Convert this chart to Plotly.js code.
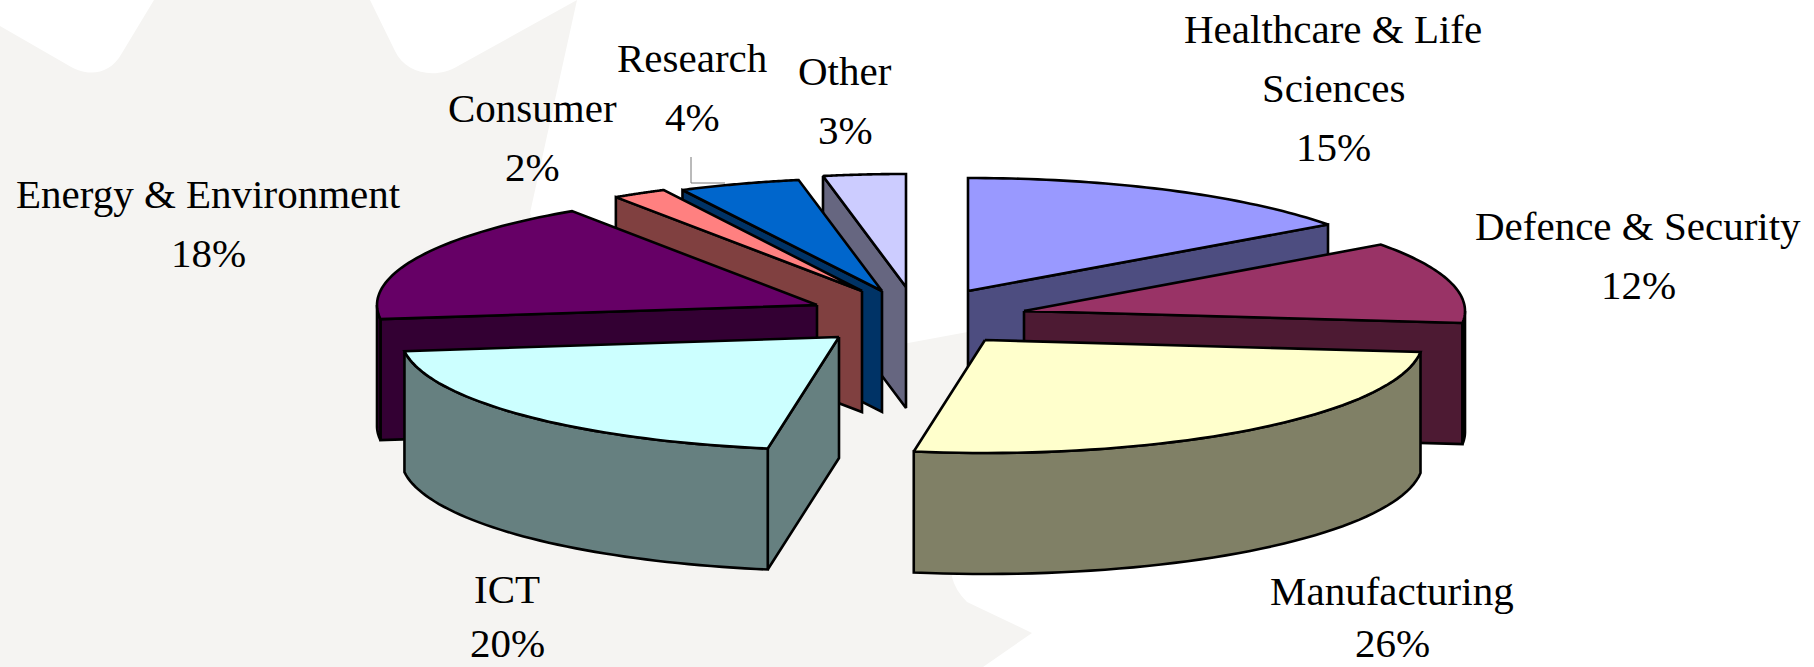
<!DOCTYPE html>
<html>
<head>
<meta charset="utf-8">
<script src="https://cdn.plot.ly/plotly-3.0.1.min.js"></script>
<style>html,body{margin:0;padding:0;background:#fff}</style>
</head>
<body>
<div id="chart" style="width:1814px;height:667px"></div>
<script>
// ---- data ----
const sectors = ["Healthcare & Life Sciences","Defence & Security","Manufacturing","ICT","Energy & Environment","Consumer","Research","Other"];
const shares  = [15,12,26,20,18,2,4,3];               // printed, rounded percentages
const sliceShares = [15,11.7,25.9,20.4,17.6,2,4.4,3]; // unrounded sizes as read from the slice edges
const labelLines = [["Healthcare & Life","Sciences"],["Defence & Security"],["Manufacturing"],["ICT"],["Energy & Environment"],["Consumer"],["Research"],["Other"]];

// ---- styling / layout ----
const topColors  = ["#9999FF","#993366","#FFFFCC","#CCFFFF","#660066","#FF8080","#0066CC","#CCCCFF"];
const sideColors = ["#4D4D80","#4D1A33","#808066","#668080","#330033","#804040","#003366","#666680"];
const centreX = [968,1024,985,839,817,862,882,906];
const centreY = [291,311,340,337,305,291,291,287];
const radiusX = [445,441,438,438,440,442,445,443];
const radiusY = 113, depth = 121;
const drawOrder = [7,6,5,4,0,1,3,2];
const labelX = [1333,1638,1392,507,208,532,692,845];
const labelY = [29,226,591,589,194,108,58,71];
const lineGaps = [59,59,52,54,59,59,59,59];
const fontSize = 41;

// ---- geometry derived from the shares ----
const rad = d => d*Math.PI/180;
let cum = 0;
const spans = sliceShares.map(v => { const s = cum; cum += v; return [s*3.6, cum*3.6]; });
const traces = [];
function face(xs, ys, fill, name){
  traces.push({type:"scatter",mode:"lines",x:xs,y:ys,fill:"toself",fillcolor:fill,
    line:{color:"#000",width:2.6,simplify:false},name:name,hoverinfo:"name",showlegend:false});
}
drawOrder.forEach(i => {
  const [a0,a1] = spans[i], cx = centreX[i], cy = centreY[i], rx = radiusX[i];
  const px = a => cx + rx*Math.sin(rad(a));
  const py = a => cy - radiusY*Math.cos(rad(a));
  const name = sectors[i] + " " + shares[i] + "%";
  // cut faces that turn towards the viewer
  [[a0,a0-90],[a1,a1+90]].forEach(([a,n]) => {
    if (Math.cos(rad(n)) < -1e-6) {
      face([cx,px(a),px(a),cx,cx],[cy,py(a),py(a)+depth,cy+depth,cy],sideColors[i],name);
    }
  });
  // outer rim: front half only
  const r0 = Math.max(a0,90), r1 = Math.min(a1,270);
  if (r1 > r0) {
    const xs=[],ys=[];
    for (let a=r0;a<=r1+1e-6;a+=(r1-r0)/48){xs.push(px(a));ys.push(py(a));}
    for (let k=xs.length-1;k>=0;k--){xs.push(xs[k]);ys.push(ys[k]+depth);}
    xs.push(xs[0]);ys.push(ys[0]);
    face(xs,ys,sideColors[i],name);
  }
  // top surface
  const tx=[cx],ty=[cy];
  for (let a=a0;a<=a1+1e-6;a+=(a1-a0)/48){tx.push(px(a));ty.push(py(a));}
  tx.push(cx);ty.push(cy);
  face(tx,ty,topColors[i],name);
});

// ---- labels ----
const annotations = [];
sectors.forEach((s,i) => {
  const lines = labelLines[i].concat([shares[i]+"%"]);
  lines.forEach((t,k) => annotations.push({
    xref:"x",yref:"y",x:labelX[i],y:labelY[i]+k*lineGaps[i],text:t,showarrow:false,
    xanchor:"center",yanchor:"middle",
    font:{family:"Liberation Serif, Times New Roman, serif",size:fontSize,color:"#000"}
  }));
});

const layout = {
  width:1814,height:667,margin:{l:0,r:0,t:0,b:0},
  paper_bgcolor:"#fff",plot_bgcolor:"rgba(0,0,0,0)",showlegend:false,
  xaxis:{range:[0,1814],visible:false,fixedrange:true},
  yaxis:{range:[667,0],visible:false,fixedrange:true},
  annotations:annotations,
  shapes:[
    {type:"path",layer:"below",xref:"x",yref:"y",fillcolor:"#F5F4F2",line:{width:0},
     path:"M0,26 L66,64 C84,76 108,78 122,53 L154,0 L370,0 L395,51 C405,73 435,80 458,66 L577,0 L530,213 L600,400 L1000,326 L952,577 Q955,590 967,602 L1032,633 L983,667 L0,667 Z"},
    {type:"path",layer:"below",xref:"x",yref:"y",line:{color:"#777",width:1},
     path:"M691,157 L691,183 L725,183"}
  ]
};
Plotly.newPlot("chart",traces,layout,{displayModeBar:false});
</script>
</body>
</html>
